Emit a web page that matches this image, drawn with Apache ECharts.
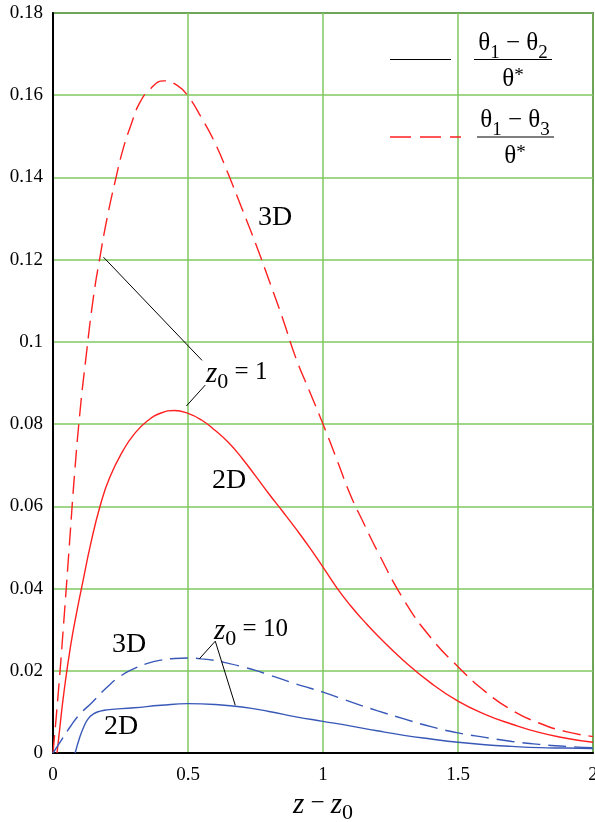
<!DOCTYPE html>
<html><head><meta charset="utf-8">
<script src="https://cdn.jsdelivr.net/npm/echarts@6/dist/echarts.min.js"></script>
<style>html,body{margin:0;padding:0;background:#fff}#c{width:595px;height:822px}</style>
</head><body><div id="c"></div>
<script>
// ---- data ----
const xMin = 0, xMax = 2, xInterval = 0.5;
const yMin = 0, yMax = 0.18, yInterval = 0.02;

// z0 = 1, 3D  (theta1 - theta3)/theta*  — red dashed
const x3D_z1 = [0, 0.02, 0.04, 0.06, 0.08, 0.10, 0.12, 0.15, 0.175, 0.2, 0.23, 0.26, 0.29, 0.32, 0.36, 0.41, 0.46, 0.5, 0.55, 0.6, 0.65, 0.7, 0.75, 0.8, 0.85, 0.9, 0.95, 1.0, 1.05, 1.1, 1.15, 1.2, 1.3, 1.4, 1.5, 1.6, 1.7, 1.8, 1.9, 2.0];
const y3D_z1 = [0, 0.015, 0.032, 0.05, 0.068, 0.083, 0.095, 0.111, 0.121, 0.130, 0.139, 0.147, 0.153, 0.158, 0.1615, 0.1635, 0.1624, 0.1598, 0.1545, 0.1484, 0.1407, 0.1324, 0.124, 0.115, 0.1058, 0.096, 0.088, 0.080, 0.0716, 0.063, 0.056, 0.0493, 0.0372, 0.028, 0.021, 0.015, 0.0104, 0.0073, 0.0052, 0.004];

// z0 = 1, 2D  (theta1 - theta2)/theta* — red solid
const x2D_z1 = [0.015, 0.025, 0.04, 0.065, 0.09, 0.11, 0.14, 0.175, 0.21, 0.26, 0.3, 0.35, 0.4, 0.45, 0.5, 0.55, 0.6, 0.65, 0.7, 0.75, 0.8, 0.85, 0.9, 0.95, 1.0, 1.05, 1.1, 1.15, 1.2, 1.3, 1.4, 1.5, 1.6, 1.7, 1.8, 1.9, 2.0];
const y2D_z1 = [0, 0.006, 0.0145, 0.026, 0.035, 0.0415, 0.051, 0.0602, 0.067, 0.0736, 0.0775, 0.0808, 0.0827, 0.0833, 0.0826, 0.081, 0.0785, 0.0755, 0.0717, 0.0674, 0.063, 0.0588, 0.0545, 0.050, 0.0452, 0.0403, 0.036, 0.0322, 0.0287, 0.0224, 0.017, 0.0126, 0.0094, 0.0070, 0.0050, 0.0036, 0.0026];

// z0 = 10, 3D — blue dashed
const x3D_z10 = [0, 0.03, 0.065, 0.1, 0.14, 0.2, 0.25, 0.3, 0.35, 0.4, 0.45, 0.5, 0.55, 0.6, 0.65, 0.7, 0.75, 0.8, 0.85, 0.9, 0.95, 1.0, 1.1, 1.2, 1.3, 1.4, 1.5, 1.6, 1.7, 1.8, 1.9, 2.0];
const y3D_z10 = [0, 0.003, 0.0065, 0.0095, 0.012, 0.016, 0.0187, 0.0205, 0.0218, 0.0226, 0.023, 0.0231, 0.0229, 0.0225, 0.0218, 0.0210, 0.0201, 0.019, 0.0179, 0.0168, 0.0158, 0.0148, 0.0125, 0.0103, 0.0083, 0.0064, 0.0049, 0.0038, 0.0028, 0.0021, 0.0016, 0.0013];

// z0 = 10, 2D — blue solid
const x2D_z10 = [0.082, 0.1, 0.115, 0.13, 0.15, 0.175, 0.2, 0.3, 0.4, 0.5, 0.6, 0.7, 0.8, 0.9, 1.0, 1.1, 1.2, 1.3, 1.4, 1.5, 1.6, 1.7, 1.8, 1.9, 2.0];
const y2D_z10 = [0, 0.004, 0.0065, 0.0083, 0.0095, 0.0102, 0.0105, 0.011, 0.0116, 0.012, 0.0118, 0.0112, 0.0101, 0.0088, 0.0077, 0.0066, 0.0054, 0.0043, 0.0034, 0.0026, 0.002, 0.0016, 0.0013, 0.0012, 0.0011];

// annotation leader lines (data coordinates)
const leaderZ1 = [[[0.187, 0.1206], [0.552, 0.0955]], [[0.564, 0.0895], [0.494, 0.0844]]];
const leaderZ10 = [[[0.542, 0.0229], [0.601, 0.0272]], [[0.601, 0.0272], [0.675, 0.0116]]];

// ---- chart ----
const zip = (xs, ys) => xs.map((x, i) => [x, ys[i]]);
const FONT = 'Liberation Serif';
const RED = '#ff2020', BLUE = '#3858b8', GRID = '#80c860';

const chart = echarts.init(document.getElementById('c'), null, {renderer: 'canvas'});

const lineSeries = (name, xs, ys, color, dashed) => ({
  name, type: 'line', data: zip(xs, ys), showSymbol: false, symbol: 'none',
  smooth: 0.5, silent: true, z: 3,
  lineStyle: {color, width: 1.4, type: dashed ? [18, 8] : 'solid'}
});

const leaderData = (arr) => arr.map(seg => [{coord: seg[0]}, {coord: seg[1]}]);

const s1 = lineSeries('3D z0=1', x3D_z1, y3D_z1, RED, true);
s1.markLine = {silent: true, symbol: 'none', animation: false,
  lineStyle: {color: '#000', width: 1, type: 'solid'}, label: {show: false},
  emphasis: {disabled: true},
  data: leaderData(leaderZ1).concat(leaderData(leaderZ10))};

const richSub = {
  i: {fontFamily: FONT, fontStyle: 'italic', fontSize: 29, lineHeight: 28, verticalAlign: 'top', color: '#000'},
  n: {fontFamily: FONT, fontSize: 25, lineHeight: 28, verticalAlign: 'top', color: '#000'},
  s: {fontFamily: FONT, fontSize: 22, lineHeight: 22, padding: [11, 0, 0, 0], verticalAlign: 'top', color: '#000'},
  t: {fontFamily: FONT, fontSize: 25, lineHeight: 26, verticalAlign: 'top', color: '#000'},
  ts: {fontFamily: FONT, fontSize: 19, lineHeight: 19, padding: [13, 0, 0, 0], verticalAlign: 'top', color: '#000'},
  sup: {fontFamily: FONT, fontSize: 19, lineHeight: 19, padding: [0, 0, 9, 0], verticalAlign: 'top', color: '#000'}
};

const txt = (x, y, text, align, size) => ({
  type: 'text', x, y, silent: true, z: 10,
  style: {text, fill: '#000', font: (size || 24) + 'px "' + FONT + '"', align: align || 'center', verticalAlign: 'middle', rich: richSub}
});

chart.setOption({
  animation: false,
  backgroundColor: '#fff',
  grid: {left: 53, right: 2, top: 13, bottom: 69, show: true, borderColor: '#000', borderWidth: 1.5, containLabel: false, outerBoundsMode: 'none'},
  xAxis: {
    type: 'value', min: xMin, max: xMax, interval: xInterval,
    axisLine: {show: true, onZero: false, lineStyle: {color: '#000', width: 2}},
    axisTick: {show: false},
    axisLabel: {color: '#000', fontFamily: FONT, fontSize: 19, margin: 13, showMaxLabel: true, showMinLabel: true, hideOverlap: false},
    splitLine: {show: true, lineStyle: {color: GRID, width: 1.5}}
  },
  yAxis: {
    type: 'value', min: yMin, max: yMax, interval: yInterval,
    axisLine: {show: true, onZero: false, lineStyle: {color: '#000', width: 2}},
    axisTick: {show: false},
    axisLabel: {color: '#000', fontFamily: FONT, fontSize: 19, margin: 10},
    splitLine: {show: true, lineStyle: {color: GRID, width: 1.5}}
  },
  series: [
    s1,
    lineSeries('2D z0=1', x2D_z1, y2D_z1, RED, false),
    lineSeries('3D z0=10', x3D_z10, y3D_z10, BLUE, true),
    lineSeries('2D z0=10', x2D_z10, y2D_z10, BLUE, false)
  ],
  graphic: [
    // curve labels
    txt(275, 218, '3D', 'center', 28),
    txt(229, 481, '2D', 'center', 28),
    txt(129, 645, '3D', 'center', 28),
    txt(121, 727, '2D', 'center', 28),
    txt(206, 374, '{i|z}{s|0}{n| = 1}', 'left'),
    txt(214, 631, '{i|z}{s|0}{n| = 10}', 'left'),
    // axis title
    txt(323, 805, '{i|z}{n| − }{i|z}{s|0}', 'center'),
    // legend
    {type: 'line', silent: true, z: 10, shape: {x1: 390, y1: 59.5, x2: 451, y2: 59.5}, style: {stroke: '#000', lineWidth: 1.2}},
    txt(513, 44, '{t|θ}{ts|1}{t| − θ}{ts|2}', 'center'),
    {type: 'line', silent: true, z: 10, shape: {x1: 474, y1: 59.5, x2: 552, y2: 59.5}, style: {stroke: '#000', lineWidth: 1.2}},
    txt(513, 80, '{t|θ}{sup|*}', 'center'),
    {type: 'line', silent: true, z: 10, shape: {x1: 390, y1: 137, x2: 461, y2: 137}, style: {stroke: RED, lineWidth: 1.4, lineDash: [21, 9]}},
    txt(515, 121, '{t|θ}{ts|1}{t| − θ}{ts|3}', 'center'),
    {type: 'line', silent: true, z: 10, shape: {x1: 477, y1: 137, x2: 554, y2: 137}, style: {stroke: '#000', lineWidth: 1.2}},
    txt(515, 157, '{t|θ}{sup|*}', 'center')
  ]
});
</script>
</body></html>
